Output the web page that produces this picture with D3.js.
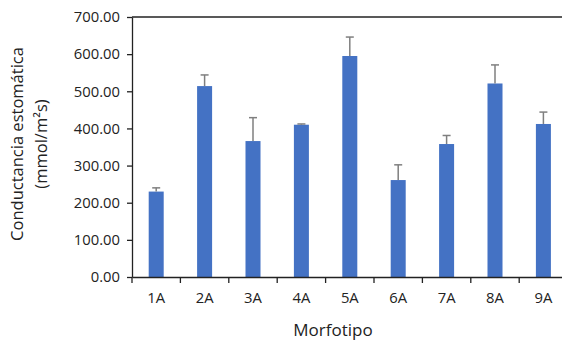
<!DOCTYPE html>
<html><head><meta charset="utf-8">
<script src="https://cdn.jsdelivr.net/npm/d3@7"></script>
<style>body{margin:0;background:#fff}svg{display:block}text{font-family:"Open Sans",sans-serif;fill:#222}</style>
</head><body><svg id="c" width="562" height="341"></svg>
<script>
const categories = ["1A","2A","3A","4A","5A","6A","7A","8A","9A"];
const values = [230, 514, 366, 410, 595, 261, 358, 521, 412];
const errors = [10, 30, 63, 2, 51, 41, 23, 50, 32];
const yTicks = [0,100,200,300,400,500,600,700];

(function(){
const svg = d3.select("#c");
const mLeft = 132, mTop = 17, mBottom = 277, bandW = 48.4;
const x = d3.scaleBand().domain(categories).range([mLeft, mLeft + bandW*categories.length]).paddingInner(0.69).paddingOuter(0.345);
const xb = d3.scaleBand().domain(categories).range([mLeft, mLeft + bandW*categories.length]);
const y = d3.scaleLinear().domain([0,700]).range([mBottom, mTop]);

svg.append("line").attr("x1", mLeft).attr("x2", 562).attr("y1", y(700)).attr("y2", y(700)).attr("stroke","#222").attr("stroke-width",1.3);

svg.selectAll("rect.bar").data(categories).join("rect").attr("class","bar")
  .attr("x", d => x(d)).attr("width", x.bandwidth())
  .attr("y", (d,i) => y(values[i])).attr("height", (d,i) => y(0) - y(values[i]))
  .attr("fill", "#4472C4");

const eg = svg.append("g").attr("stroke","#7f7f7f").attr("stroke-width",1.5);
categories.forEach((c,i) => {
  const cx = x(c) + x.bandwidth()/2;
  eg.append("line").attr("x1",cx).attr("x2",cx).attr("y1",y(values[i])).attr("y2",y(values[i]+errors[i]));
  eg.append("line").attr("x1",cx-4).attr("x2",cx+4).attr("y1",y(values[i]+errors[i])).attr("y2",y(values[i]+errors[i]));
});

const ya = svg.append("g").attr("transform",`translate(${mLeft},0)`)
  .call(d3.axisLeft(y).tickValues(yTicks).tickFormat(d3.format(".2f")).tickSize(5).tickSizeOuter(0));
ya.select(".domain").attr("stroke","#222").attr("stroke-width",1.3);
ya.selectAll(".tick line").attr("stroke","#222").attr("stroke-width",1.3);
ya.selectAll(".tick text").attr("x",-12).style("font-size","14.8px").style("font-family","'Open Sans',sans-serif").attr("fill","#222");

const xa = svg.append("g").attr("transform",`translate(0,${mBottom})`)
  .call(d3.axisBottom(xb).tickSize(0).tickSizeOuter(0));
xa.select(".domain").attr("stroke","#222").attr("stroke-width",1.3);
xa.selectAll(".tick text").attr("y",15).style("font-size","14.8px").style("font-family","'Open Sans',sans-serif").attr("fill","#222");
const bounds = categories.map(c => xb(c)).concat([xb(categories[categories.length-1]) + xb.bandwidth()]);
svg.append("g").selectAll("line").data(bounds).join("line")
  .attr("x1", d => d).attr("x2", d => d).attr("y1", mBottom).attr("y2", mBottom + 6)
  .attr("stroke","#222").attr("stroke-width",1.3);

svg.append("text").attr("x", 333).attr("y", 336).attr("text-anchor","middle").style("font-size","17px").text("Morfotipo");
const yt = svg.append("text").attr("transform","translate(23,144) rotate(-90)").attr("text-anchor","middle").style("font-size","16.5px");
yt.append("tspan").attr("x",0).attr("y",0).text("Conductancia estomática");
yt.append("tspan").attr("x",0).attr("y",24).text("(mmol/m²s)");
})();
</script></body></html>
